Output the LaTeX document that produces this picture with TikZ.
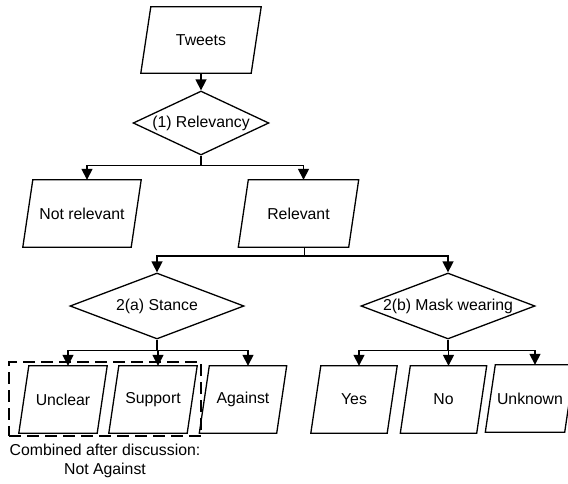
\documentclass[tikz,border=0pt]{standalone}
\usepackage{fontspec}
\setmainfont{Liberation Sans}
\usetikzlibrary{shapes.geometric,arrows.meta}
\newcommand\pgdraw[1]{\draw[pgline] ([xshift=5pt]#1.north west) -- ([xshift=5pt]#1.north east) -- ([xshift=-5pt]#1.south east) -- ([xshift=-5pt]#1.south west) -- cycle;}
\begin{document}
\begin{tikzpicture}[x=1pt,y=-1pt,
  font=\fontsize{15.8}{19}\selectfont,
  pg/.style={rectangle,inner sep=0pt,minimum height=67pt},
  pgline/.style={line width=1.3pt,line join=miter},
  dia/.style={diamond,draw,line width=1.3pt,aspect=2.6,inner sep=0pt,minimum width=174pt,minimum height=66pt},
  arr/.style={line width=1.5pt,-{Triangle[width=11pt,length=11pt]}},
  ln/.style={line width=1.5pt}]
\useasboundingbox (0,0) rectangle (568,483);
\clip (0,0) rectangle (568,483);
\node[pg,minimum width=110pt,minimum height=66pt] (tw) at (201,40) {Tweets};
\pgdraw{tw}
\node[dia,minimum width=133pt,minimum height=64pt] (rel) at (201,123) {(1) Relevancy};
\node[pg,minimum width=108pt] (nr) at (82,213.5) {Not relevant};
\pgdraw{nr}
\node[pg,minimum width=110pt] (re) at (298.5,213.5) {Relevant};
\pgdraw{re}
\node[dia] (st) at (157,306) {2(a) Stance};
\node[dia] (mw) at (448,306) {2(b) Mask wearing};
\node[pg,minimum width=78pt] (un) at (63,399.5) {Unclear};
\pgdraw{un}
\node[pg,minimum width=78pt] (su) at (153,399.5) {Support};
\pgdraw{su}
\node[pg,minimum width=77pt] (ag) at (243,399.5) {Against};
\pgdraw{ag}
\node[pg,minimum width=76pt] (ye) at (354,399.5) {Yes};
\pgdraw{ye}
\node[pg,minimum width=76pt] (no) at (443.5,399.5) {No};
\pgdraw{no}
\node[pg,minimum width=79pt] (uk) at (530,398.5) {Unknown};
\pgdraw{uk}
% connectors
\draw[arr] (tw.south) -- (rel.north);
\draw[ln] (rel.south) -- ++(0,10) coordinate (j1);
\draw[arr] (j1) -| ([xshift=5pt]nr.north);
\draw[arr] (j1) -| ([xshift=5pt]re.north);
\draw[ln] ([xshift=6pt]re.south) -- ++(0,9) coordinate (j2);
\draw[arr] (j2) -| (st.north);
\draw[arr] (j2) -| (mw.north);
\draw[ln] (st.south) -- ++(0,11) coordinate (j3);
\draw[arr] (j3) -| ([xshift=5pt]un.north);
\draw[arr] (j3) -| ([xshift=5pt]su.north);
\draw[arr] (j3) -| ([xshift=5pt]ag.north);
\draw[ln] (mw.south) -- ++(0,11) coordinate (j4);
\draw[arr] (j4) -| ([xshift=5pt]ye.north);
\draw[arr] (j4) -| ([xshift=5pt]no.north);
\draw[arr] (j4) -| ([xshift=5pt]uk.north);
% combined group
\node[draw,line width=2.4pt,dash pattern=on 12pt off 6pt,rectangle,inner sep=0pt,minimum width=192pt,minimum height=74pt] (grp) at (105,399) {};
\node[align=center,anchor=north] (cap) at (105,441) {Combined after discussion:\\Not Against};
\end{tikzpicture}
\end{document}
